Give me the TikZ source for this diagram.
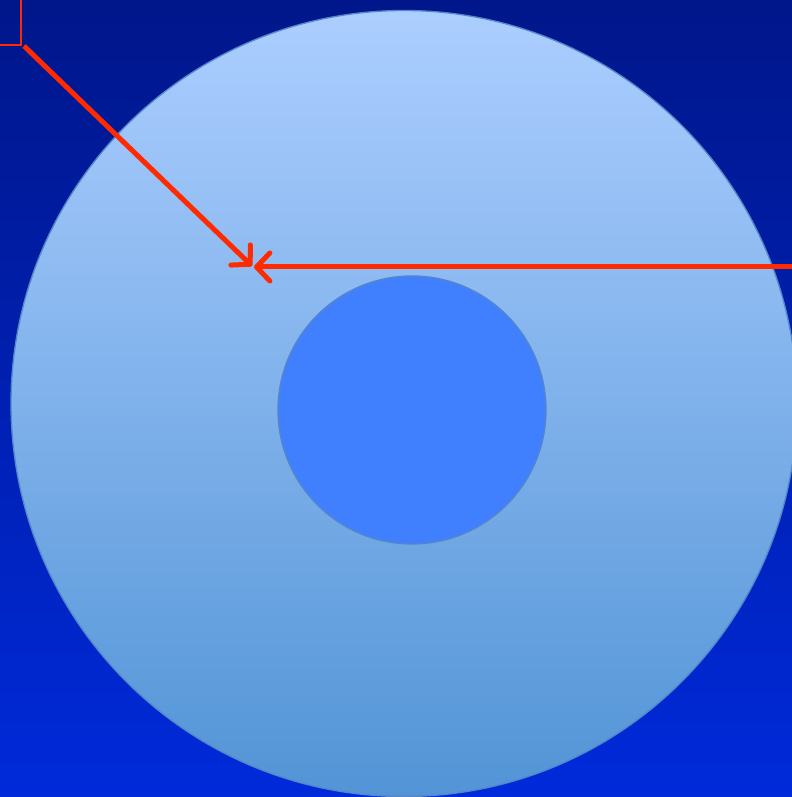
\documentclass[tikz,border=0pt]{standalone}
\usetikzlibrary{arrows.meta,positioning,calc}

\definecolor{bgtop}{RGB}{0,22,138}
\definecolor{bgbot}{RGB}{0,42,218}
\definecolor{disktop}{RGB}{172,206,255}
\definecolor{diskbot}{RGB}{82,148,214}
\definecolor{diskrim}{RGB}{84,134,204}
\definecolor{holefill}{RGB}{64,128,255}
\definecolor{pointer}{RGB}{255,42,0}

\begin{document}
\begin{tikzpicture}[x=0.75pt,y=0.75pt,
    ring/.style={circle,draw=diskrim,line width=1pt,inner sep=0pt,outer sep=0pt},
    pointer/.style={draw=pointer,line width=3.75pt,-{Straight Barb[length=10pt,width=21pt,round]}}]
  \useasboundingbox (0,0) rectangle (792,797);
  \clip (0,0) rectangle (792,797);
  \shade[top color=bgtop,bottom color=bgbot] (0,0) rectangle (792,797);
  \node[ring,top color=disktop,bottom color=diskbot,minimum size=589.5pt] (disk) at (404,393.5) {};
  \node[ring,fill=holefill,minimum size=201pt] (hole) at (412,387) {};
  \node[draw=pointer,line width=1.2pt,inner sep=0pt,outer sep=0pt,minimum width=23.25pt,minimum height=41.25pt] (label) at (5.5,779.5) {};
  \coordinate (tip) at (252,531);
  \coordinate (tipb) at (254,530);
  \coordinate (edge) at (800,530);
  \draw[pointer] ($(label.south east)+(3,-1)$) -- (tip);
  \draw[pointer] (edge) -- (tipb);
\end{tikzpicture}
\end{document}
